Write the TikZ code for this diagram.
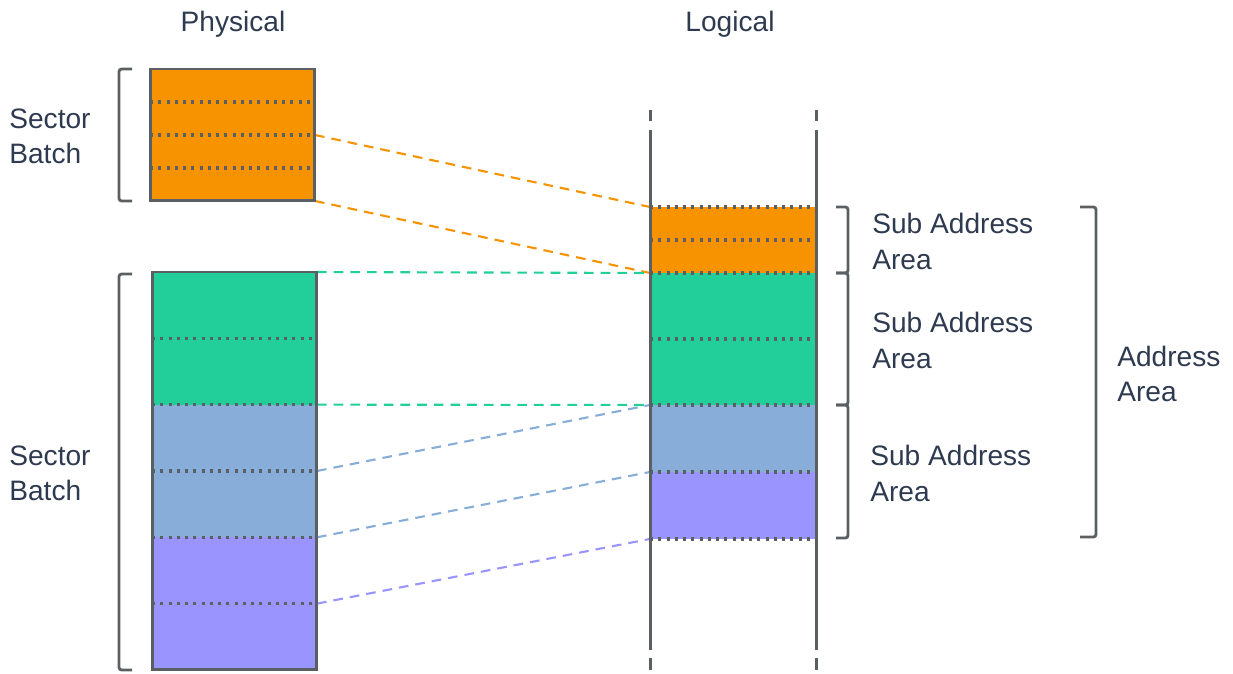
\documentclass[tikz,border=0pt]{standalone}
\usepackage{fontspec}
\setmainfont{Liberation Sans}
\usetikzlibrary{positioning}
\definecolor{lineGray}{HTML}{5A5F63}
\definecolor{textBlue}{HTML}{2E3A4F}
\definecolor{secOrange}{HTML}{F89300}
\definecolor{secGreen}{HTML}{22CE99}
\definecolor{secBlue}{HTML}{88ADD8}
\definecolor{secPurple}{HTML}{9A94FF}
\tikzset{
  sector/.style={inner sep=0, outer sep=0, minimum width=3.3cm},
  small/.style={sector, minimum height=0.66cm},
  big/.style={sector, minimum height=1.3267cm},
  divider/.style={lineGray, line width=1.8pt, dash pattern=on 1.7pt off 3pt},
  border/.style={lineGray, line width=1.7pt},
  bracket/.style={lineGray, line width=1.6pt, rounded corners=1.5pt},
  link/.style={line width=1.2pt, dash pattern=on 5.5pt off 4pt},
  label/.style={textBlue, anchor=west, align=left, inner sep=0,
    font=\fontsize{16}{20}\selectfont}
}
\begin{document}
\begin{tikzpicture}[x=0.02cm, y=-0.02cm]
    \useasboundingbox (0,0) rectangle (1233,673);
    % physical, top batch
    \node[small, fill=secOrange, anchor=north] (p1) at (232.5,69) {};
    \node[small, fill=secOrange, below=0pt of p1] (p2) {};
    \node[small, fill=secOrange, below=0pt of p2] (p3) {};
    \node[small, fill=secOrange, below=0pt of p3] (p4) {};
    % physical, bottom batch
    \node[big, fill=secGreen, anchor=north] (q1) at (234.5,272) {};
    \node[big, fill=secGreen, below=0pt of q1] (q2) {};
    \node[big, fill=secBlue, below=0pt of q2] (q3) {};
    \node[big, fill=secBlue, below=0pt of q3] (q4) {};
    \node[big, fill=secPurple, below=0pt of q4] (q5) {};
    \node[big, fill=secPurple, below=0pt of q5] (q6) {};
    % logical
    \node[small, fill=secOrange, minimum width=3.32cm, anchor=north] (l1) at (733,207) {};
    \node[small, fill=secOrange, minimum width=3.32cm, below=0pt of l1] (l2) {};
    \node[big, fill=secGreen, minimum width=3.32cm, minimum height=1.32cm, below=0pt of l2] (l3) {};
    \node[big, fill=secGreen, minimum width=3.32cm, minimum height=1.32cm, below=0pt of l3] (l4) {};
    \node[big, fill=secBlue, minimum width=3.32cm, minimum height=1.34cm, below=0pt of l4] (l5) {};
    \node[big, fill=secPurple, minimum width=3.32cm, minimum height=1.34cm, below=0pt of l5] (l6) {};

    % mapping lines
    \draw[link, secOrange] (p3.north east) -- (l1.north west);
    \draw[link, secOrange] (p4.south east) -- (l2.south west);
    \draw[link, secGreen] (q1.north east) -- (l3.north west);
    \draw[link, secGreen] (q2.south east) -- (l4.south west);
    \draw[link, secBlue] (q4.north east) -- (l5.north west);
    \draw[link, secBlue] (q4.south east) -- (l5.south west);
    \draw[link, secPurple] (q6.north east) -- (l6.south west);

    % dotted sector lines
    \foreach \s in {p1,p2,p3,q1,q2,q3,q4,q5}
        \draw[divider] (\s.south west) -- (\s.south east);
    \draw[divider] (l1.north west) -- (l1.north east);
    \foreach \s in {l1,l2,l3,l4,l5,l6}
        \draw[divider] (\s.south west) -- (\s.south east);

    \draw[border] (p1.north west) rectangle (p4.south east);
    \draw[border] (q1.north west) rectangle (q6.south east);

    % logical column
    \foreach \x in {650,816} {
        \draw[border] (\x,110) -- (\x,121);
        \draw[border] (\x,130) -- (\x,650);
        \draw[border] (\x,658) -- (\x,670);
    }

    % brackets
    \draw[bracket] (132,69) -- (119,69) -- (119,201) -- (132,201);
    \draw[bracket] (132,274) -- (119,274) -- (119,670) -- (132,670);
    \draw[bracket] (836,207) -- (848,207) -- (848,273) -- (836,273);
    \draw[bracket] (836,273) -- (848,273) -- (848,405) -- (836,405);
    \draw[bracket] (836,405) -- (848,405) -- (848,538) -- (836,538);
    \draw[bracket] (1080,207) -- (1096,207) -- (1096,537) -- (1080,537);

    % labels
    \node[label, anchor=center] (physical) at (233,24) {Physical};
    \node[label, anchor=center] (logical) at (730,24) {Logical};
    \node[label] (batchA) at (9,136) {Sector\\Batch};
    \node[label] (batchB) at (9,473) {Sector\\Batch};
    \node[label] (subA) at (872,241.5) {Sub Address\\Area};
    \node[label] (subB) at (872,340.5) {Sub Address\\Area};
    \node[label] (subC) at (870,473.5) {Sub Address\\Area};
    \node[label] (area) at (1117,374) {Address\\Area};
\end{tikzpicture}
\end{document}
